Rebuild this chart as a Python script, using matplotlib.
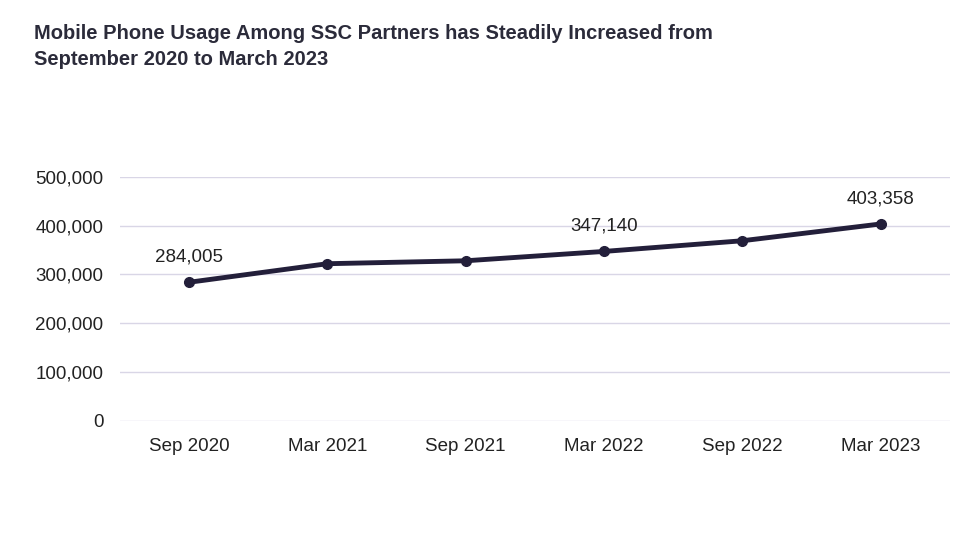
import matplotlib.pyplot as plt

months = ["Sep 2020", "Mar 2021", "Sep 2021", "Mar 2022", "Sep 2022", "Mar 2023"]
users = [284005, 322000, 328000, 347140, 369000, 403358]
labelled = [0, 3, 5]

plt.rcParams['font.family'] = ['Liberation Sans', 'DejaVu Sans']

fig = plt.figure(figsize=(9.75, 5.39), dpi=100)
ax = fig.add_axes([0.123, 0.219, 0.851, 0.453])

x = range(len(months))
ax.plot(x, users, color="#231f3a", lw=3.5, marker="o", ms=7, zorder=3)
for i in labelled:
    ax.annotate(f"{users[i]:,}", (i, users[i]), xytext=(0, 12), textcoords="offset points",
                ha="center", va="bottom", fontsize=13.5, color="#222222")

ax.set_xlim(-0.5, 5.5)
ax.set_ylim(0, 500000)
ax.set_yticks(range(0, 500001, 100000))
ax.set_yticklabels([f"{v:,}" for v in range(0, 500001, 100000)])
ax.set_xticks(list(x))
ax.set_xticklabels(months)
ax.tick_params(length=0, labelsize=13.5, colors="#222222", pad=12)
ax.grid(axis="y", color="#d9d6e6", lw=1)
ax.set_axisbelow(True)
for s in ax.spines.values():
    s.set_visible(False)

fig.text(0.035, 0.955, "Mobile Phone Usage Among SSC Partners has Steadily Increased from\nSeptember 2020 to March 2023",
         ha="left", va="top", fontsize=14.5, fontweight="bold", color="#2b2b3a", linespacing=1.45)

fig.savefig("out.png", dpi=100)
